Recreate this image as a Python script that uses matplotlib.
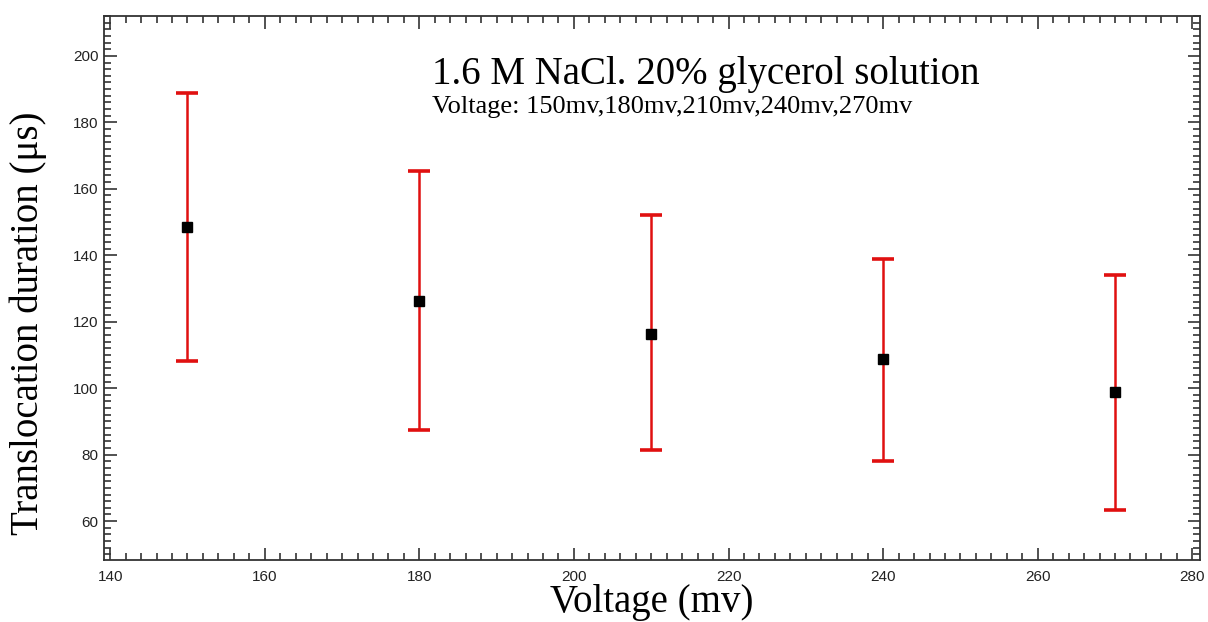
import matplotlib.pyplot as plt
from matplotlib.ticker import MultipleLocator

# data
voltage = [150, 180, 210, 240, 270]
duration = [148.6, 126.3, 116.4, 108.8, 98.8]
err_low = [40.4, 38.9, 35.0, 30.6, 35.4]
err_high = [40.2, 39.0, 35.6, 30.2, 35.4]

title = "1.6 M NaCl. 20% glycerol solution"
subtitle = "Voltage: 150mv,180mv,210mv,240mv,270mv"


def main() -> None:
    fig = plt.figure(figsize=(12.08, 6.22), dpi=100)
    ax = fig.add_axes([0.0861, 0.0997, 0.9073, 0.8746])

    ax.errorbar(
        voltage,
        duration,
        yerr=[err_low, err_high],
        fmt="none",
        ecolor="#e01010",
        elinewidth=1.8,
        capsize=8,
        capthick=2.6,
        zorder=2,
    )
    ax.plot(voltage, duration, "s", color="black", markersize=7, zorder=3)

    ax.set_xlim(139.2, 281)
    ax.set_ylim(48.3, 212)
    ax.xaxis.set_major_locator(MultipleLocator(20))
    ax.xaxis.set_minor_locator(MultipleLocator(2))
    ax.yaxis.set_major_locator(MultipleLocator(20))
    ax.yaxis.set_minor_locator(MultipleLocator(2))
    ax.tick_params(which="both", direction="in", top=True, right=True,
                   color="#333333", width=1.2)
    ax.tick_params(which="major", length=9, labelsize=11)
    ax.tick_params(axis="x", which="major", pad=7)
    ax.tick_params(axis="y", which="major", pad=4)
    ax.tick_params(which="minor", length=5)
    for lab in ax.get_xticklabels() + ax.get_yticklabels():
        lab.set_fontfamily("Liberation Sans")
        lab.set_color("#222222")
    for sp in ax.spines.values():
        sp.set_color("#333333")
        sp.set_linewidth(1.3)

    ax.set_xlabel("Voltage (mv)", family="Liberation Serif", fontsize=28, labelpad=0)
    ax.set_ylabel("Translocation duration (\u03bcs)", family="Liberation Serif",
                  fontsize=28)
    ax.yaxis.set_label_coords(-0.052, 0.436)

    ax.text(0.299, 0.892, title, transform=ax.transAxes,
            family="Liberation Serif", fontsize=28, va="center")
    ax.text(0.299, 0.833, subtitle, transform=ax.transAxes,
            family="Liberation Serif", fontsize=19, va="center")

    fig.savefig("out.png", dpi=100)


if __name__ == "__main__":
    main()
